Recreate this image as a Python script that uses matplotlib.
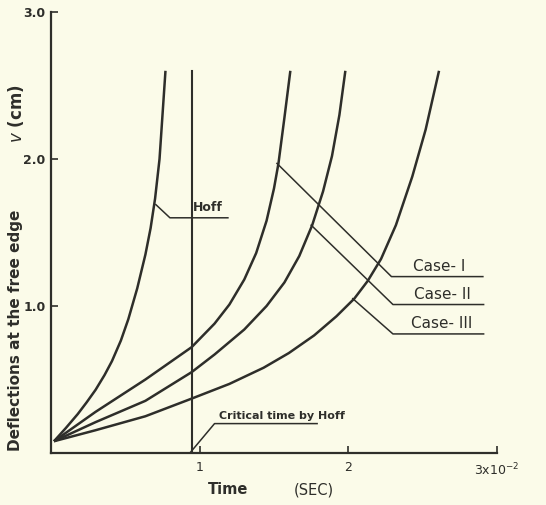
import matplotlib
matplotlib.use("Agg")
import matplotlib.pyplot as plt

# Time in units of 1e-2 sec, deflection v in cm
hoff_t = [0.02, 0.10, 0.18, 0.24, 0.30, 0.36, 0.41, 0.47, 0.52, 0.58, 0.635,
          0.67, 0.70, 0.73, 0.75, 0.77]
hoff_v = [0.08, 0.17, 0.265, 0.345, 0.43, 0.53, 0.625, 0.765, 0.91, 1.12, 1.35,
          1.53, 1.73, 2.00, 2.30, 2.60]

case1_t = [0.02, 0.30, 0.635, 0.946, 1.10, 1.20, 1.30, 1.38, 1.45, 1.50, 1.53,
           1.57, 1.61]
case1_v = [0.08, 0.28, 0.50, 0.72, 0.88, 1.01, 1.18, 1.36, 1.58, 1.80, 1.97,
           2.28, 2.60]

case2_t = [0.02, 0.30, 0.635, 0.946, 1.10, 1.30, 1.45, 1.57, 1.67, 1.757, 1.83,
           1.89, 1.94, 1.98]
case2_v = [0.08, 0.21, 0.355, 0.55, 0.67, 0.84, 1.00, 1.16, 1.34, 1.55, 1.78,
           2.02, 2.30, 2.60]

case3_t = [0.02, 0.30, 0.635, 0.946, 1.20, 1.43, 1.60, 1.77, 1.92, 2.04, 2.13,
           2.22, 2.32, 2.43, 2.52, 2.61]
case3_v = [0.08, 0.155, 0.25, 0.37, 0.47, 0.58, 0.68, 0.80, 0.93, 1.05, 1.17,
           1.32, 1.55, 1.88, 2.20, 2.60]

critical_t = 0.946
top_v = 2.60

xticks = [1, 2, 3]
xtick_labels = ["1", "2", r"3x10$^{-2}$"]
yticks = [1.0, 2.0, 3.0]
ytick_labels = ["1.0", "2.0", "3.0"]

bg = "#fbfbe9"
ink = "#2e2e2a"

fig = plt.figure(figsize=(5.46, 5.05), dpi=100, facecolor=bg)
ax = fig.add_axes([51/546, 52/505, 446/546, 441/505], facecolor=bg)
ax.set_xlim(0, 3.0)
ax.set_ylim(0, 3.0)

for s in ["top", "right"]:
    ax.spines[s].set_visible(False)
for s in ["left", "bottom"]:
    ax.spines[s].set_color(ink)
    ax.spines[s].set_linewidth(1.6)

lw = 1.8
for tt, vv in [(hoff_t, hoff_v), (case1_t, case1_v), (case2_t, case2_v),
               (case3_t, case3_v)]:
    ax.plot(tt, vv, color=ink, lw=lw, solid_capstyle="butt",
            solid_joinstyle="round")
ax.plot([critical_t, critical_t], [0, top_v], color=ink, lw=1.5)

ax.set_xticks(xticks)
ax.set_xticklabels(xtick_labels)
ax.set_yticks(yticks)
ax.set_yticklabels(ytick_labels)
ax.tick_params(axis="both", direction="in", length=5, width=1.2, color=ink,
               labelsize=9, labelcolor=ink)
for lab in ax.get_yticklabels():
    lab.set_fontweight("bold")
ax.tick_params(axis="x", pad=6)
ax.tick_params(axis="y", pad=4)

llw = 1.1
# Hoff leader
ax.plot([0.705, 0.80, 1.19], [1.69, 1.60, 1.60], color=ink, lw=llw)
ax.text(0.955, 1.625, "Hoff", fontsize=9, color=ink, ha="left", va="bottom",
        fontweight="bold")
# Case leaders
ax.plot([1.52, 2.29, 2.905], [1.97, 1.20, 1.20], color=ink, lw=llw)
ax.plot([1.75, 2.30, 2.91], [1.55, 1.01, 1.01], color=ink, lw=llw)
ax.plot([2.03, 2.30, 2.91], [1.05, 0.81, 0.81], color=ink, lw=llw)
ax.text(2.61, 1.22, "Case- I", fontsize=11, color=ink, ha="center", va="bottom")
ax.text(2.63, 1.03, "Case- II", fontsize=11, color=ink, ha="center", va="bottom")
ax.text(2.63, 0.83, "Case- III", fontsize=11, color=ink, ha="center", va="bottom")
# critical time leader
ax.plot([0.94, 1.10, 1.79], [0.007, 0.20, 0.20], color=ink, lw=llw)
ax.text(1.13, 0.22, "Critical time by Hoff", fontsize=8, color=ink,
        ha="left", va="bottom", fontweight="bold")

fig.text(16/546, 1 - 330/505, "Deflections at the free edge", rotation=90,
         ha="center", va="center", fontsize=11, fontweight="bold", color=ink)
fig.text(16/546, 1 - 114/505, r"$v$ (cm)", rotation=90,
         ha="center", va="center", fontsize=12, fontweight="bold", color=ink)
fig.text(228/546, 1 - 490/505, "Time", ha="center", va="center",
         fontsize=10.5, fontweight="bold", color=ink)
fig.text(314/546, 1 - 490/505, "(SEC)", ha="center", va="center",
         fontsize=10.5, color=ink)

fig.savefig("out.png", dpi=100, facecolor=bg)
